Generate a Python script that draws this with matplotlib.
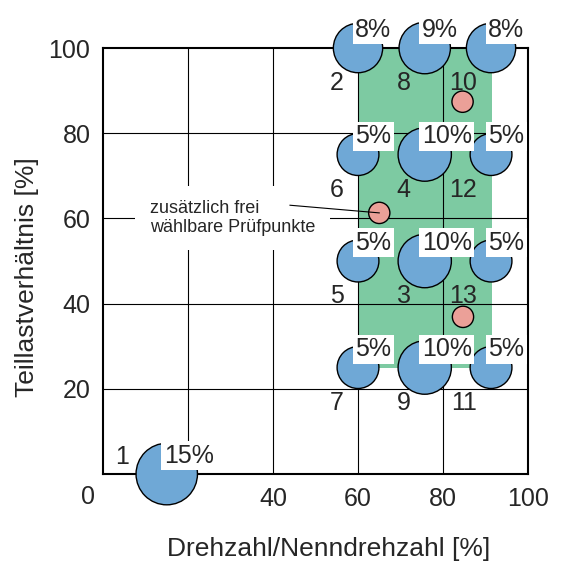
import matplotlib
matplotlib.use("Agg")
import matplotlib.pyplot as plt
from matplotlib.patches import Circle, Rectangle

# operating points: id, speed [% of rated], part-load ratio [%], weight [%]
point_ids = [1, 2, 8, 10, 6, 4, 12, 5, 3, 13, 7, 9, 11]
speed = [15, 60, 75.7, 91.3, 60, 75.7, 91.3, 60, 75.7, 91.3, 60, 75.7, 91.3]
load = [0, 100, 100, 100, 75, 75, 75, 50, 50, 50, 25, 25, 25]
weight = [15, 8, 9, 8, 5, 10, 5, 5, 10, 5, 5, 10, 5]

# freely selectable extra test points
extra_speed = [84.6, 65.0, 84.7]
extra_load = [87.4, 61.3, 36.9]

# test region
region_speed = [60, 91.5]
region_load = [25, 100]

xticks = [0, 20, 40, 60, 80, 100]
xtick_labels = ['', '', '40', '60', '80', '100']
yticks = [0, 20, 40, 60, 80, 100]
ytick_labels = ['', '20', '40', '60', '80', '100']

txt = '#262626'
blue = '#6fa8d6'
green = '#7dcaa2'
salmon = '#eba098'

plt.rcParams['font.family'] = ['Liberation Sans', 'DejaVu Sans']

fig = plt.figure(figsize=(5.61, 5.61), dpi=100)
ax = fig.add_axes([0.1836, 0.155, 0.7576, 0.7594])
ax.set_xlim(0, 100)
ax.set_ylim(0, 100)

ax.add_patch(Rectangle((region_speed[0], region_load[0]),
                       region_speed[1] - region_speed[0],
                       region_load[1] - region_load[0],
                       facecolor=green, edgecolor='none', zorder=1))

for v in xticks[1:-1]:
    ax.axvline(v, color='black', lw=0.8, zorder=1.5)
for v in yticks[1:-1]:
    ax.axhline(v, color='black', lw=0.8, zorder=1.5)

for pid, x, y, w in zip(point_ids, speed, load, weight):
    r = 2.8 * w ** 0.35
    ax.add_patch(Circle((x, y), r, facecolor=blue, edgecolor='black',
                        lw=1, zorder=4, clip_on=False))
    ax.annotate('%d%%' % w, (x, y), xytext=(-2, 8), textcoords='offset points',
                ha='left', va='baseline', fontsize=18, color=txt, zorder=6,
                annotation_clip=False,
                bbox=dict(boxstyle='square,pad=0.1', fc='white', ec='none'))
    if pid == 1:
        ax.text(x - 8.8, y + 4, str(pid), ha='right', va='center',
                fontsize=18, color=txt, zorder=6)
    else:
        ax.text(x - 3.3, y - 8.3, str(pid), ha='right', va='center',
                fontsize=18, color=txt, zorder=6)

for x, y in zip(extra_speed, extra_load):
    ax.add_patch(Circle((x, y), 2.5, facecolor=salmon, edgecolor='black',
                        lw=1, zorder=4))

ax.text(11, 60.1, 'zusätzlich frei\nwählbare Prüfpunkte', ha='left', va='center',
        fontsize=13, color=txt, zorder=5, linespacing=1.1,
        bbox=dict(boxstyle='square,pad=0.8', fc='white', ec='none'))
ax.plot([44, extra_speed[1]], [63.1, extra_load[1]], color='black', lw=0.8,
        zorder=5.5)

ax.set_xticks(xticks)
ax.set_xticklabels(xtick_labels)
ax.set_yticks(yticks)
ax.set_yticklabels(ytick_labels)
ax.tick_params(length=0, labelsize=18, labelcolor=txt, pad=9)
ax.text(-3.6, -5.4, '0', ha='center', va='center', fontsize=18, color=txt,
        clip_on=False)

for s in ax.spines.values():
    s.set_linewidth(1.5)
    s.set_zorder(2.5)

ax.set_xlabel('Drehzahl/Nenndrehzahl [%]', fontsize=19, color=txt)
ax.set_ylabel('Teillastverhältnis [%]', fontsize=19, color=txt)
ax.xaxis.set_label_coords(0.532, -0.147)
ax.yaxis.set_label_coords(-0.15, 0.462)

fig.savefig('out.png', dpi=100)
